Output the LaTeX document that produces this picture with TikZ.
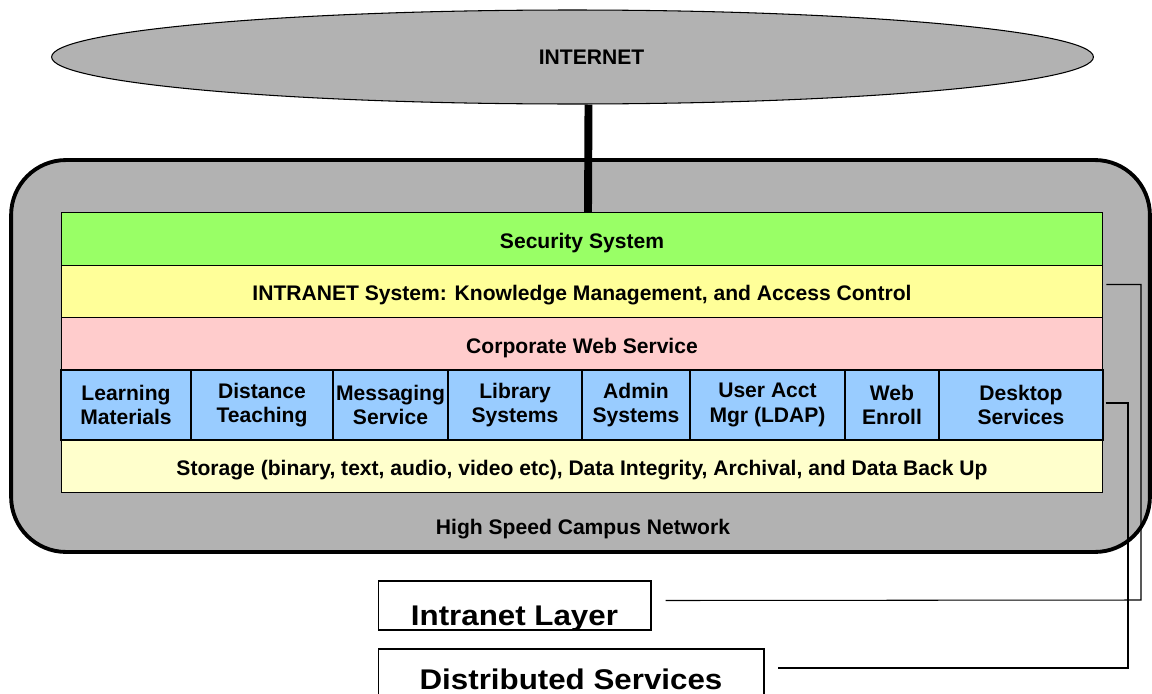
\documentclass[tikz,border=0pt]{standalone}
\usepackage{fontspec}
\setmainfont{Liberation Sans}
\usepackage{graphicx}
\usepackage{tikz}
\usetikzlibrary{shapes,positioning,calc}

\definecolor{cloudgray}{HTML}{B2B2B2}
\definecolor{secgreen}{HTML}{99FF66}
\definecolor{intrayellow}{HTML}{FFFF99}
\definecolor{webpink}{HTML}{FFCCCC}
\definecolor{svcblue}{HTML}{99CCFF}
\definecolor{storecream}{HTML}{FFFFCC}

\tikzset{
 layer/.style={draw, line width=0.6pt, minimum width=20.84cm, minimum height=1.05cm, inner sep=0pt,
   text height=0.36cm, text depth=0pt, font=\bfseries\fontsize{12}{13.7}\selectfont},
 cell/.style={draw, line width=0.6pt, fill=svcblue, minimum height=1.4cm, inner sep=0pt, align=center,
   font=\bfseries\fontsize{12}{13.7}\selectfont},
 tag/.style={draw, line width=0.6pt, fill=white, inner sep=0pt, text depth=0pt,
   font=\bfseries\fontsize{16.2}{20}\selectfont},
 wire/.style={line width=0.6pt}
}

\begin{document}
\begin{tikzpicture}[x=0.02cm, y=-0.02cm]
\useasboundingbox (0,0) rectangle (1152,693);

\node[ellipse, draw, line width=0.6pt, fill=cloudgray, minimum width=20.84cm, minimum height=1.88cm] (inet) at (572.5,57) {};
\node[font=\bfseries\fontsize{12}{14}\selectfont] (inettxt) at (591.5,57) {INTERNET};

\node[draw, line width=2.2pt, fill=cloudgray, rounded corners=1.1cm, minimum width=22.78cm, minimum height=7.84cm] (campus) at (580.5,356) {};
\node[font=\bfseries\fontsize{12}{14}\selectfont] (campustxt) at (583,529) {High Speed Campus Network};

\node[layer, fill=secgreen] (sec) at (582,239) {Security System};
\node[layer, fill=intrayellow] (intra) at (582,291.5) {INTRANET System: Knowledge Management, and Access Control};
\node[layer, fill=webpink] (corp) at (582,344) {Corporate Web Service};
\node[layer, fill=storecream] (store) at (582,466.5) {Storage (binary, text, audio, video etc), Data Integrity, Archival, and Data Back Up};

\foreach \xa/\xb/\nm/\txt in {61/191/learn/{Learning\\Materials}, 191/333/dist/{Distance\\Teaching},
  333/448/msg/{Messaging\\Service}, 448/582/lib/{Library\\Systems}, 582/690/admin/{Admin\\Systems},
  690/845/ldap/{User Acct\\Mgr (LDAP)}, 845/939/enroll/{Web\\Enroll}, 939/1103/desk/{Desktop\\Services}}
 \node[cell, minimum width=(\xb-\xa)*0.02cm] (\nm) at ({(\xa+\xb)/2},405) {\txt};

\draw[line width=4.5pt] ([xshift=0.32cm]inet.south) -- ([xshift=0.12cm]sec.north);

\node[tag, minimum width=5.46cm, minimum height=0.98cm, text height=0.78cm] (ilayer) at (514.5,605.5)
  {\scalebox{1.1}[1]{Intranet Layer}};
\node[tag, minimum width=7.72cm, minimum height=1.6cm, text height=0pt] (dserv) at (571,689)
  {\scalebox{1.1}[1]{Distributed Services}};

\draw[wire] ([shift={(3,-7)}]intra.east) -| (1141,600) -- ([shift={(14,-5)}]ilayer.east);
\draw[wire] ([shift={(2,-2)}]desk.east) -| (1128,668) -- ([shift={(13,-21)}]dserv.east);
\end{tikzpicture}
\end{document}
